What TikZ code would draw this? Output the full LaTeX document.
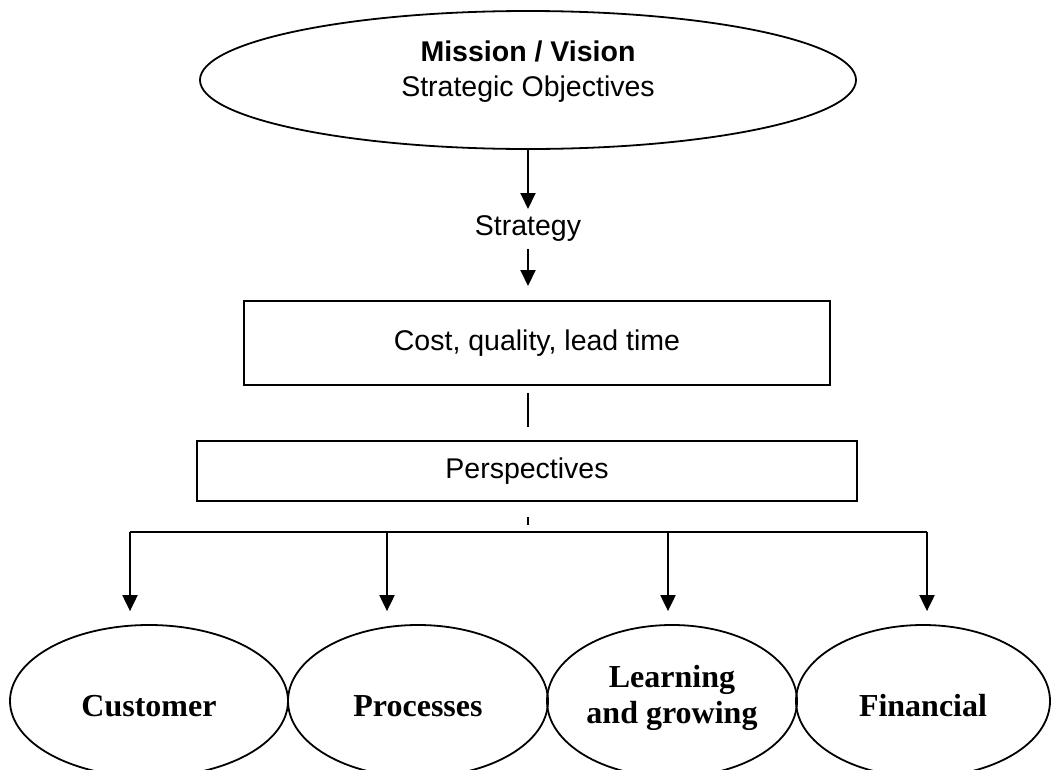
\documentclass[tikz,border=0pt]{standalone}
\usepackage{fontspec}
\setmainfont{Liberation Sans}
\newfontfamily\perspfont{Liberation Serif}
\usetikzlibrary{shapes.geometric,arrows.meta}
\begin{document}
\begin{tikzpicture}[x=1pt,y=-1pt,
  line width=2pt,
  oval/.style={draw,ellipse,inner sep=0pt,line width=1.8pt},
  frame/.style={draw,rectangle,inner sep=0pt,line width=2pt},
  label/.style={font=\fontsize{28.5}{35}\selectfont,align=center,inner sep=0pt},
  persp/.style={oval,minimum height=152pt},
  perspname/.style={font=\perspfont\bfseries\fontsize{32}{36}\selectfont,align=center,inner sep=0pt},
  arr/.style={-{Triangle[width=15pt,length=16pt]},line width=2pt}]
\useasboundingbox (0,0) rectangle (1055,769);

% top-level goal
\node[oval,minimum width=656pt,minimum height=138pt] (mission) at (528,80) {};
\node[label] (missiontext) at (528,72)
  {\textbf{Mission / Vision}\\Strategic Objectives};
\node[label,minimum height=38pt] (strategy) at (528,229) {Strategy};

% strategy drivers
\node[frame,label,minimum width=586pt,minimum height=84pt] (cost) at (537,343) {Cost, quality, lead time};
\node[frame,label,minimum width=660pt,minimum height=60pt] (perspectives) at (527,471) {Perspectives};

% the four perspectives (their lower rims run past the page edge)
\node[persp,minimum width=278pt] (customer) at (149,701) {};
\node[persp,minimum width=260pt] (processes) at (418,701) {};
\node[persp,minimum width=250pt] (learning) at (672,701) {};
\node[persp,minimum width=254pt] (financial) at (923,701) {};
\node[perspname,anchor=base] (customertext) at (149,716) {Customer};
\node[perspname,anchor=base] (processestext) at (418,716) {Processes};
\node[perspname,anchor=base] (learningtext) at (672,723) {Learning\\and growing};
\node[perspname,anchor=base] (financialtext) at (923,716) {Financial};

% distribution bar
\coordinate (hub) at (528,532);
\coordinate (b1) at (130,532);
\coordinate (b2) at (387,532);
\coordinate (b3) at (668,532);
\coordinate (b4) at (927,532);

% connectors
\draw[arr] (mission.south) -- (strategy.north);
\draw[arr,shorten >=14pt] (strategy.south) -- (strategy.south |- cost.north);
\draw[line width=1.6pt,shorten <=7pt,shorten >=13pt] (cost.south -| mission.south) -- (mission.south |- perspectives.north);
\draw[line width=1.6pt,shorten <=15pt,shorten >=7pt] (hub |- perspectives.south) -- (hub);
\draw (b1) -- (b4);
\draw[arr,shorten >=13pt] (b1) -- (b1 |- customer.north);
\draw[arr,shorten >=13pt] (b2) -- (b2 |- processes.north);
\draw[arr,shorten >=13pt] (b3) -- (b3 |- learning.north);
\draw[arr,shorten >=13pt] (b4) -- (b4 |- financial.north);
\end{tikzpicture}
\end{document}
